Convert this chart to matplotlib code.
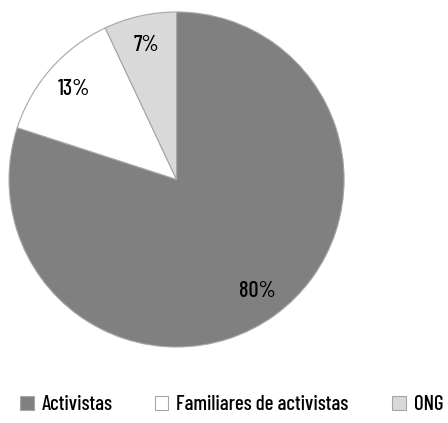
import matplotlib
matplotlib.use("Agg")
import matplotlib.pyplot as plt
from matplotlib.patches import Patch

categories = ["Activistas", "Familiares de activistas", "ONG"]
shares = [80, 13, 7]
colors = ["#808080", "#ffffff", "#d9d9d9"]

plt.rcParams['font.family'] = ['Barlow Condensed', 'DejaVu Sans']
plt.rcParams['font.weight'] = 500

fig = plt.figure(figsize=(4.48, 4.23), dpi=100)
ax = fig.add_axes([0.0201, 0.1797, 0.748, 0.792])

wedges, texts, autotexts = ax.pie(
    shares, colors=colors, startangle=90, counterclock=False,
    autopct="%d%%", pctdistance=0.82,
    wedgeprops={"edgecolor": "#a6a6a6", "linewidth": 0.8},
    textprops={"fontsize": 16, "color": "black"})
ax.set_aspect("equal")
ax.set_xlim(-1, 1)
ax.set_ylim(-1, 1)

# one legend per entry so the spacing follows the reference
legend_x = [0.045, 0.345, 0.875]
for c, name, x in zip(colors, categories, legend_x):
    h = Patch(facecolor=c, edgecolor="#a6a6a6", linewidth=0.8)
    fig.legend([h], [name], loc="center left", bbox_to_anchor=(x, 0.043),
               frameon=False, fontsize=15, handlelength=0.65, handleheight=0.65,
               handletextpad=0.4, borderpad=0, borderaxespad=0)

fig.savefig("out.png", dpi=100)
